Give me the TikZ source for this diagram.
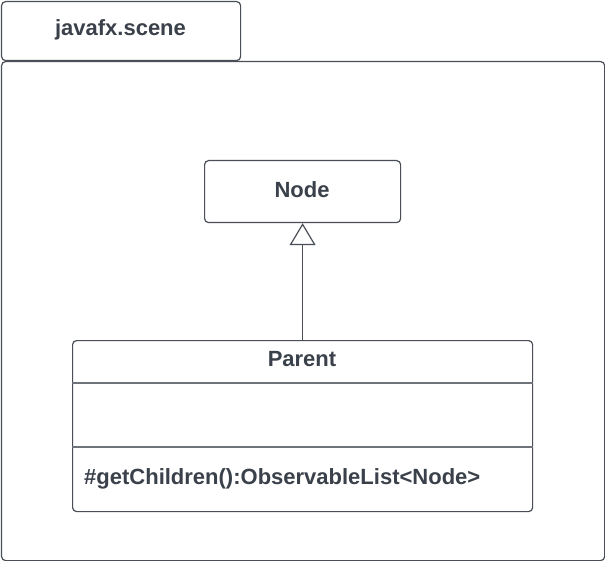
\documentclass[tikz,border=0pt]{standalone}
\usepackage{fontspec}
\setmainfont{Liberation Sans}
\usetikzlibrary{arrows.meta}
\definecolor{ink}{HTML}{3A414A}
\definecolor{edgec}{HTML}{4A4F57}
\definecolor{divc}{HTML}{6E737A}
\begin{document}
\begin{tikzpicture}[x=1pt,y=-1pt,
  box/.style={draw=edgec, line width=1.2pt, rounded corners=4pt, fill=white, inner sep=0pt},
  lbl/.style={text=ink, font=\fontsize{22}{26}\selectfont\bfseries, inner sep=0pt}]
\useasboundingbox (0,0) rectangle (605,561);
\node[box, minimum width=239pt, minimum height=59pt, anchor=north west] (tab) at (1,1) {};
\node[lbl] (tabtxt) at (120.5,30) {javafx.scene};
\node[box, minimum width=603pt, minimum height=499pt, anchor=north west] (pkg) at (1,61) {};
\node[box, minimum width=196pt, minimum height=62pt, anchor=north west] (node) at (204,160) {};
\node[lbl] (nodetxt) at (302,189.5) {Node};
\node[box, minimum width=460pt, minimum height=171pt, anchor=north west] (parent) at (72,340) {};
\node[lbl] (parenttxt) at (302,359.5) {Parent};
\draw[draw=divc, line width=1.2pt] (parent.west |- 0,383) -- (parent.east |- 0,383);
\draw[draw=divc, line width=1.2pt] (parent.west |- 0,447) -- (parent.east |- 0,447);
\node[lbl, anchor=west] (meth) at (84,478.5) {\#getChildren():ObservableList<Node>};
\draw[draw=edgec, line width=1.2pt, -{Triangle[open, length=22pt, width=26pt, fill=white]}] (parent.north) -- (node.south);
\end{tikzpicture}
\end{document}
